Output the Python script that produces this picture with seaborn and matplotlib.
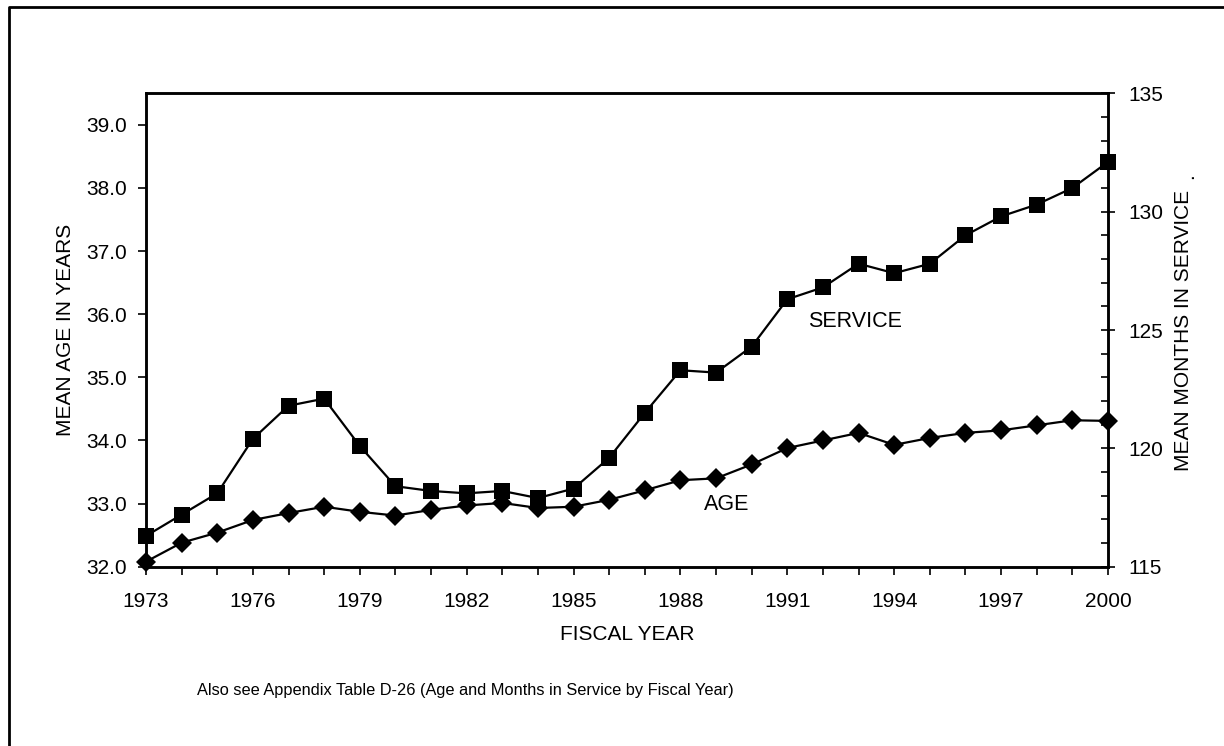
import numpy as np
import pandas as pd
import matplotlib
matplotlib.use("Agg")
import matplotlib.pyplot as plt
from matplotlib.ticker import MultipleLocator, FixedLocator, FormatStrFormatter
from matplotlib.lines import Line2D
import seaborn as sns

# data
years = list(range(1973, 2001))
mean_age = [32.08, 32.38, 32.54, 32.74, 32.85, 32.95, 32.87, 32.81, 32.90, 32.97,
            33.01, 32.93, 32.95, 33.06, 33.21, 33.37, 33.40, 33.62, 33.88, 34.00,
            34.12, 33.93, 34.04, 34.12, 34.16, 34.24, 34.32, 34.31]
mean_months = [116.3, 117.2, 118.1, 120.4, 121.8, 122.1, 120.1, 118.4, 118.2, 118.1,
               118.2, 117.9, 118.3, 119.6, 121.5, 123.3, 123.2, 124.3, 126.3, 126.8,
               127.8, 127.4, 127.8, 129.0, 129.8, 130.3, 131.0, 132.1]
year_labels = list(range(1973, 2001, 3))

df = pd.DataFrame({"year": years, "age": mean_age, "months": mean_months})

sns.set_style("ticks")
plt.rcParams["font.family"] = ["Liberation Sans", "DejaVu Sans"]
plt.rcParams["text.color"] = "black"
plt.rcParams["axes.labelcolor"] = "black"
FS = 15

fig = plt.figure(figsize=(12.24, 7.46), dpi=100)
ax = fig.add_axes([146 / 1224, 1 - 566.7 / 746, 962 / 1224, 473.4 / 746])
ax2 = ax.twinx()

sns.lineplot(data=df, x="year", y="age", ax=ax, color="black", linewidth=1.6,
             marker="D", markersize=10, markeredgewidth=0, clip_on=False, zorder=5)
sns.lineplot(data=df, x="year", y="months", ax=ax2, color="black", linewidth=1.6,
             marker="s", markersize=11, markeredgewidth=0, clip_on=False, zorder=5)

ax.set_xlim(1973, 2000)
ax.set_ylim(32, 39.5)
ax2.set_ylim(115, 135)

ax.xaxis.set_major_locator(FixedLocator(year_labels))
ax.xaxis.set_minor_locator(MultipleLocator(1))
ax.yaxis.set_major_locator(MultipleLocator(1))
ax.yaxis.set_major_formatter(FormatStrFormatter("%.1f"))
ax2.yaxis.set_major_locator(MultipleLocator(5))
ax2.yaxis.set_minor_locator(MultipleLocator(1))

ax.tick_params(axis="x", which="both", direction="out", length=6, width=1.2,
               labelsize=FS, pad=12, colors="black")
ax.tick_params(axis="y", which="major", direction="out", length=6, width=1.2,
               labelsize=FS, pad=8, colors="black")
ax2.tick_params(axis="y", which="major", direction="inout", length=10, width=1.2,
                labelsize=FS, pad=10, colors="black")
ax2.tick_params(axis="y", which="minor", direction="in", length=5, width=1.2,
                colors="black")

for a in (ax, ax2):
    for s in a.spines.values():
        s.set_visible(True)
        s.set_linewidth(1.8)
        s.set_color("black")

ax.set_xlabel("FISCAL YEAR", fontsize=FS, va="center")
ax.xaxis.set_label_coords(0.5, -0.144)
ax.set_ylabel("MEAN AGE IN YEARS", fontsize=FS, va="center", ha="center")
ax.yaxis.set_label_coords(-0.084, 0.5)
ax2.set_ylabel("MEAN MONTHS IN SERVICE", fontsize=FS, rotation=90, va="center", ha="center")
ax2.yaxis.set_label_coords(1.078, 0.5)

ax.text(1991.58, 35.88, "SERVICE", fontsize=15.5, ha="left", va="center")
ax.text(1988.66, 32.99, "AGE", fontsize=15.5, ha="left", va="center")

fig.text(1188 / 1224, 1 - 176 / 746, ".", fontsize=FS, ha="center", va="center", rotation=90)
fig.text(197 / 1224, 1 - 691 / 746,
         "Also see Appendix Table D-26 (Age and Months in Service by Fiscal Year)",
         fontsize=11.8, ha="left", va="center")

# outer frame (left and top edges only visible)
x0, y0 = 9 / 1224, 1 - 7 / 746
fig.add_artist(Line2D([x0, x0, 1.0], [0.0, y0, y0], transform=fig.transFigure,
                      color="black", linewidth=2))

fig.savefig("out.png", dpi=100)
